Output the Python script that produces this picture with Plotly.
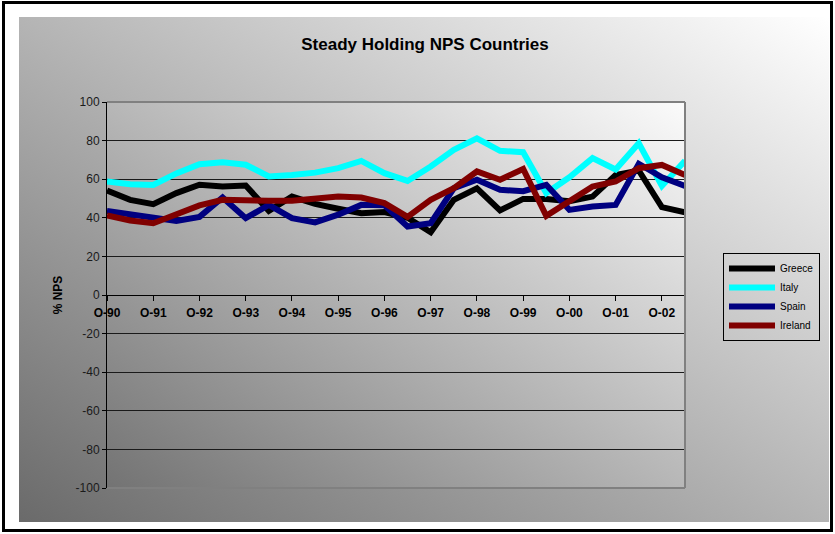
import base64
import plotly.graph_objects as go

# Half-yearly observation periods (October / April)
periods = [
    "Oct-90", "Apr-91", "Oct-91", "Apr-92", "Oct-92", "Apr-93", "Oct-93",
    "Apr-94", "Oct-94", "Apr-95", "Oct-95", "Apr-96", "Oct-96", "Apr-97",
    "Oct-97", "Apr-98", "Oct-98", "Apr-99", "Oct-99", "Apr-00", "Oct-00",
    "Apr-01", "Oct-01", "Apr-02", "Oct-02", "Apr-03",
]

# Year ticks on the category axis
tick_periods = ["Oct-90", "Oct-91", "Oct-92", "Oct-93", "Oct-94", "Oct-95", "Oct-96",
                "Oct-97", "Oct-98", "Oct-99", "Oct-00", "Oct-01", "Oct-02"]
tick_labels = ["O-90", "O-91", "O-92", "O-93", "O-94", "O-95", "O-96",
               "O-97", "O-98", "O-99", "O-00", "O-01", "O-02"]

# Value axis ticks
y_ticks = [100, 80, 60, 40, 20, 0, -20, -40, -60, -80, -100]
y_tick_labels = ["100", "80", "60", "40", "20", "0", "-20", "-40", "-60", "-80", "-100"]

# % NPS by country
greece = [54.1, 49.3, 47.1, 52.8, 57.1, 56.2, 56.7, 43.6, 51.0, 47.2, 44.7, 42.4, 43.0,
          40.0, 32.5, 49.3, 55.3, 43.8, 49.8, 49.8, 48.6, 51.0, 62.2, 64.5, 45.5, 42.8]
italy = [58.8, 57.4, 57.0, 63.0, 67.8, 68.8, 67.5, 61.4, 62.2, 63.4, 65.7, 69.5, 63.1,
         59.1, 66.6, 75.2, 81.2, 74.7, 74.0, 52.8, 61.0, 70.9, 65.0, 78.6, 56.5, 69.5]
spain = [43.6, 41.9, 40.7, 38.4, 40.5, 50.5, 39.8, 46.7, 39.8, 37.6, 41.6, 46.7, 46.5,
         35.5, 37.2, 55.3, 59.7, 54.5, 53.8, 57.1, 44.1, 45.9, 46.7, 68.0, 61.0, 56.5]
ireland = [41.2, 38.6, 37.2, 41.9, 46.4, 49.3, 48.8, 48.8, 48.8, 49.8, 51.0, 50.5, 47.6,
           40.5, 49.3, 55.3, 64.0, 59.7, 65.3, 41.0, 48.6, 56.2, 58.8, 65.7, 67.4, 62.2]

series = [
    ("Greece", greece, "#000000"),
    ("Italy", italy, "#00FFFF"),
    ("Spain", spain, "#000080"),
    ("Ireland", ireland, "#800000"),
]

W, H = 835, 534
FONT = "Arial, Liberation Sans, sans-serif"


def px_x(v):
    return v / W


def px_y(v):
    return 1 - v / H


def gradient_svg(dark, light):
    svg = (
        "<svg xmlns='http://www.w3.org/2000/svg' width='100' height='100' "
        "viewBox='0 0 100 100' preserveAspectRatio='none'>"
        "<defs><linearGradient id='g' x1='0' y1='1' x2='1' y2='0'>"
        f"<stop offset='0' stop-color='{dark}'/>"
        f"<stop offset='1' stop-color='{light}'/>"
        "</linearGradient></defs>"
        "<rect width='100' height='100' fill='url(#g)'/></svg>"
    )
    return "data:image/svg+xml;base64," + base64.b64encode(svg.encode()).decode()


# plot area in pixels
PL, PR, PT, PB = 107, 685, 102, 488
xdom = [px_x(PL), px_x(PR)]
ydom = [px_y(PB), px_y(PT)]

fig = go.Figure()
for name, vals, color in series:
    fig.add_trace(go.Scatter(
        x=periods, y=vals, mode="lines", name=name,
        line=dict(color=color, width=6),
    ))

frame_color = "#808080"

fig.update_layout(
    width=W, height=H,
    margin=dict(l=0, r=0, t=0, b=0, autoexpand=False),
    paper_bgcolor="white",
    plot_bgcolor="rgba(0,0,0,0)",
    font=dict(family=FONT, color="#000000"),
    title=dict(
        text="<b>Steady Holding NPS Countries</b>",
        x=px_x(425), y=px_y(44), xanchor="center", yanchor="middle",
        font=dict(size=17, family=FONT, color="#000000"),
        automargin=False,
    ),
    xaxis=dict(
        domain=xdom,
        type="category",
        range=[0, len(periods) - 1],
        anchor="free",
        position=(ydom[0] + ydom[1]) / 2,
        tickmode="array",
        tickvals=tick_periods,
        ticktext=tick_labels,
        tickfont=dict(size=12, family=FONT, color="#000000", weight="bold"),
        ticks="outside", ticklen=5, tickcolor="#000000",
        ticklabelstandoff=2,
        showline=True, linecolor="#000000", linewidth=1,
        showgrid=False, zeroline=False,
        automargin=False,
    ),
    yaxis=dict(
        domain=ydom,
        range=[-100, 100],
        tickmode="array",
        tickvals=y_ticks,
        ticktext=y_tick_labels,
        tickfont=dict(size=12, family=FONT, color="#1a1a1a"),
        ticks="outside", ticklen=4, tickcolor="#000000",
        showline=True, linecolor="#000000", linewidth=1,
        showgrid=True, gridcolor="#1a1a1a", gridwidth=1,
        zeroline=False,
        automargin=False,
        title=dict(text="<b>% NPS</b>", font=dict(size=12, family=FONT, color="#000000"),
                   standoff=10),
    ),
    legend=dict(
        x=px_x(723), y=px_y(253), xanchor="left", yanchor="top",
        bgcolor="rgba(0,0,0,0)", bordercolor="#000000", borderwidth=1,
        font=dict(size=10, family=FONT, color="#000000"),
        itemwidth=46, tracegroupgap=0,
    ),
    images=[
        dict(source=gradient_svg("#6a6a6a", "#ffffff"), xref="paper", yref="paper",
             x=px_x(19), y=px_y(17), sizex=px_x(829) - px_x(19), sizey=px_y(17) - px_y(522),
             xanchor="left", yanchor="top", sizing="stretch", layer="below"),
        dict(source=gradient_svg("#737373", "#fbfbfb"), xref="paper", yref="paper",
             x=xdom[0], y=ydom[1], sizex=xdom[1] - xdom[0], sizey=ydom[1] - ydom[0],
             xanchor="left", yanchor="top", sizing="stretch", layer="below"),
    ],
    shapes=[
        # plot-area frame: top, right and bottom edges
        dict(type="line", xref="paper", yref="paper",
             x0=xdom[0], x1=xdom[1], y0=ydom[1], y1=ydom[1],
             line=dict(color=frame_color, width=2), layer="above"),
        dict(type="line", xref="paper", yref="paper",
             x0=xdom[1], x1=xdom[1], y0=ydom[0], y1=ydom[1],
             line=dict(color=frame_color, width=2), layer="above"),
        dict(type="line", xref="paper", yref="paper",
             x0=xdom[0], x1=xdom[1], y0=ydom[0], y1=ydom[0],
             line=dict(color=frame_color, width=2), layer="below"),
        # outer chart border
        dict(type="rect", xref="paper", yref="paper",
             x0=px_x(3.5), x1=px_x(831.5), y0=px_y(530.5), y1=px_y(2.5),
             line=dict(color="#000000", width=3), layer="above"),
    ],
)

fig.write_html("out.html")
